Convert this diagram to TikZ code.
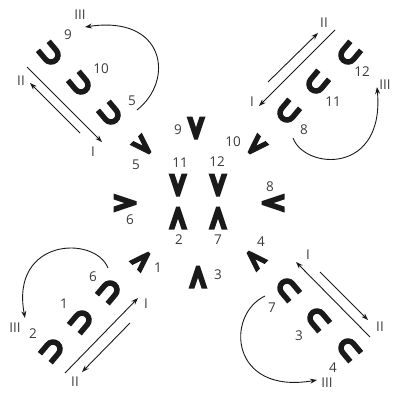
\documentclass[tikz,border=0pt]{standalone}
\usepackage{fontspec}
\setmainfont{Open Sans}
\usetikzlibrary{arrows.meta}
\definecolor{ink}{HTML}{1A1A1A}
\definecolor{lbl}{HTML}{3C3C3C}
\tikzset{
  ushape/.pic={\draw[ink,line width=5.5pt] (-7,-12) -- (-7,0) arc[start angle=180,end angle=0,radius=7] -- (7,-12);},
  chev/.pic={\fill[ink] (-9.5,-11.5) -- (-3.6,-11.5) -- (0,-0.5) -- (3.6,-11.5) -- (9.5,-11.5) -- (1.8,11.5) -- (-1.8,11.5) -- cycle;},
  lab/.style={text=lbl,font=\fontsize{13.5}{13.5}\selectfont,inner sep=0pt},
  conn/.style={ink,line width=0.9pt,-{Stealth[length=7pt,width=5pt]}},
}
\begin{document}
\begin{tikzpicture}[x=1pt,y=-1pt]
\useasboundingbox (0,0) rectangle (393,392);
% U shapes
\pic[rotate=40] (u9) at (51,55) {ushape};
\pic[rotate=40] (u10) at (81,85) {ushape};
\pic[rotate=40] (u5) at (111,115) {ushape};
\pic[rotate=-40] (u12) at (348,55) {ushape};
\pic[rotate=-40] (u11) at (316,84) {ushape};
\pic[rotate=-40] (u8) at (287,113) {ushape};
\pic[rotate=140] (u6) at (110,290) {ushape};
\pic[rotate=140] (u1) at (82,320) {ushape};
\pic[rotate=140] (u2) at (53,349) {ushape};
\pic[rotate=-140] (u7) at (287,288) {ushape};
\pic[rotate=-140] (u3) at (317,318) {ushape};
\pic[rotate=-140] (u4) at (348,348) {ushape};
% chevrons
\pic (c9) at (196,128) {chev};
\pic[rotate=-45,scale=0.9] (c10) at (256,146) {chev};
\pic[rotate=45,scale=0.9] (c5) at (143,146) {chev};
\pic[rotate=-90] (c8) at (273,203) {chev};
\pic[rotate=90] (c6) at (125,203) {chev};
\pic[rotate=-135,scale=0.9] (c4) at (255,259) {chev};
\pic[rotate=135,scale=0.9] (c1) at (142,260) {chev};
\pic[rotate=180] (c3) at (198,277) {chev};
\pic (c11) at (178,185) {chev};
\pic (c12) at (218,185) {chev};
\pic[rotate=180] (c2) at (178,218) {chev};
\pic[rotate=180] (c7) at (218,218) {chev};
% number labels
\node[lab] (n9a) at (68,35) {9};
\node[lab] (n10a) at (101,69) {10};
\node[lab] (n5a) at (132,101) {5};
\node[lab] (n12a) at (362,72) {12};
\node[lab] (n11a) at (333,102) {11};
\node[lab] (n8a) at (304,130) {8};
\node[lab] (n6a) at (93,277) {6};
\node[lab] (n1a) at (64,304) {1};
\node[lab] (n2a) at (33,334) {2};
\node[lab] (n7a) at (272,308) {7};
\node[lab] (n3a) at (299,336) {3};
\node[lab] (n4a) at (333,368) {4};
\node[lab] (n9) at (178,130) {9};
\node[lab] (n10) at (233,142) {10};
\node[lab] (n5) at (136,165) {5};
\node[lab] (n11) at (180,163) {11};
\node[lab] (n12) at (217,162) {12};
\node[lab] (n6) at (130,220) {6};
\node[lab] (n8) at (270,187) {8};
\node[lab] (n2) at (179,240) {2};
\node[lab] (n7) at (218,240) {7};
\node[lab] (n1) at (158,268) {1};
\node[lab] (n4) at (261,242) {4};
\node[lab] (n3) at (218,275) {3};
% roman labels
\node[lab] (tlIII) at (80,15) {III};
\node[lab] (tlII) at (21,81) {II};
\node[lab] (tlI) at (93,152) {I};
\node[lab] (trII) at (324,23) {II};
\node[lab] (trI) at (252,102) {I};
\node[lab] (trIII) at (385,85) {III};
\node[lab] (blIII) at (15,328) {III};
\node[lab] (blII) at (75,382) {II};
\node[lab] (blI) at (146,304) {I};
\node[lab] (brI) at (308,255) {I};
\node[lab] (brII) at (380,327) {II};
\node[lab] (brIII) at (327,383) {III};
% connector end points
\coordinate (tlA1) at (27,67);  \coordinate (tlA2) at (102,142);
\coordinate (tlB1) at (80,133); \coordinate (tlB2) at (30,83);
\coordinate (trA1) at (268,82); \coordinate (trA2) at (318,33);
\coordinate (trB1) at (335,30); \coordinate (trB2) at (259,106);
\coordinate (blA1) at (65,373); \coordinate (blA2) at (138,298);
\coordinate (blB1) at (130,323); \coordinate (blB2) at (82,372);
\coordinate (brA1) at (370,337); \coordinate (brA2) at (296,262);
\coordinate (brB1) at (320,272); \coordinate (brB2) at (368,320);
\coordinate (tlC1) at (137,110); \coordinate (tlC2) at (85,27);
\coordinate (trC1) at (293,138); \coordinate (trC2) at (377,87);
\coordinate (blC1) at (108,268); \coordinate (blC2) at (25,318);
\coordinate (brC1) at (265,296); \coordinate (brC2) at (317,380);
% straight arrows
\draw[conn] (tlA1) -- (tlA2);
\draw[conn] (tlB1) -- (tlB2);
\draw[conn] (trA1) -- (trA2);
\draw[conn] (trB1) -- (trB2);
\draw[conn] (blA1) -- (blA2);
\draw[conn] (blB1) -- (blB2);
\draw[conn] (brA1) -- (brA2);
\draw[conn] (brB1) -- (brB2);
% curved arrows
\draw[conn] (tlC1) .. controls (175,80) and (165,15) .. (tlC2);
\draw[conn] (trC1) .. controls (305,170) and (385,175) .. (trC2);
\draw[conn] (blC1) .. controls (95,235) and (10,238) .. (blC2);
\draw[conn] (brC1) .. controls (225,315) and (230,395) .. (brC2);
\end{tikzpicture}
\end{document}
